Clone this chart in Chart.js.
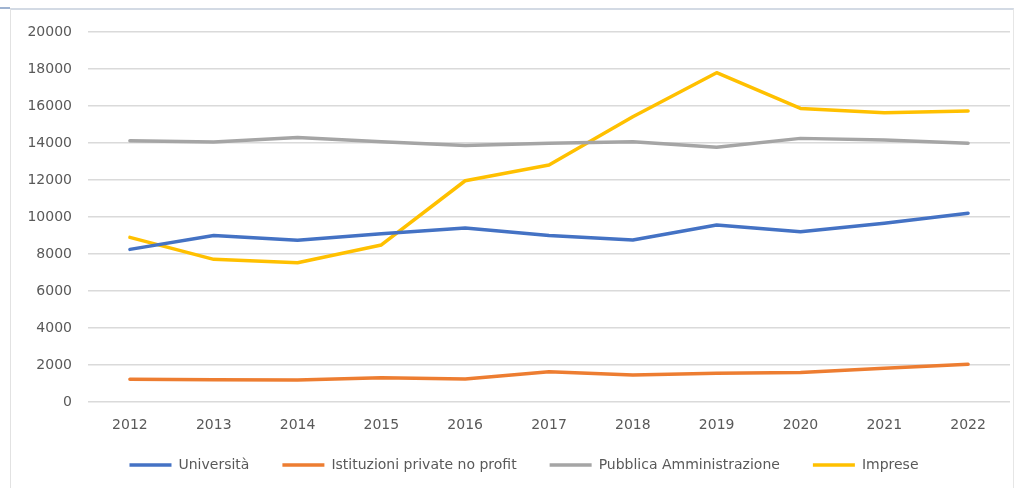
<!DOCTYPE html>
<html lang="it">
<head>
<meta charset="utf-8">
<title>Ricercatori per settore 2012-2022</title>
<script src="https://cdn.jsdelivr.net/npm/chart.js@4.4.1/dist/chart.umd.min.js"></script>
<style>
  html, body { margin: 0; padding: 0; background: #ffffff; }
  #wrap { position: relative; width: 1018px; height: 488px; overflow: hidden; }
  #frame {
    position: absolute; left: 10px; top: 8px; width: 1004px; height: 484px;
    border-top: 2px solid #d3dae4; border-left: 1px solid #e2e2e2; border-right: 1px solid #e6e6e6;
    box-sizing: border-box; pointer-events: none;
  }
  #corner { position: absolute; left: 0; top: 7px; width: 10px; height: 2px; background: #9fb3d1; }
  canvas { position: absolute; left: 0; top: 0; }
</style>
</head>
<body>
<div id="wrap">
  <canvas id="chart" width="1018" height="488"></canvas>
  <div id="frame"></div>
  <div id="corner"></div>
</div>
<script>
// Anni e serie (numero di addetti per settore)
const anni = ['2012', '2013', '2014', '2015', '2016', '2017', '2018', '2019', '2020', '2021', '2022'];
const universita = [8250, 9000, 8740, 9100, 9410, 9000, 8760, 9570, 9200, 9660, 10200];
const istituzioniPrivate = [1230, 1200, 1190, 1310, 1240, 1640, 1460, 1550, 1600, 1820, 2040];
const pubblicaAmministrazione = [14120, 14050, 14300, 14070, 13860, 13990, 14070, 13770, 14250, 14160, 13990];
const imprese = [8900, 7710, 7530, 8490, 11960, 12810, 15420, 17800, 15870, 15640, 15730];
const yTicks = [0, 2000, 4000, 6000, 8000, 10000, 12000, 14000, 16000, 18000, 20000];

Chart.defaults.font.family = "'DejaVu Sans', sans-serif";
Chart.defaults.font.size = 14;
Chart.defaults.color = '#595959';

function serie(label, data, color) {
  return {
    label, data,
    borderColor: color, backgroundColor: color,
    borderWidth: 3.5, tension: 0,
    borderJoinStyle: 'round', borderCapStyle: 'round',
    pointRadius: 0, pointHoverRadius: 0, fill: false
  };
}

// Sposta la legenda (centrata sotto l'area del grafico) dopo il calcolo del layout
const legendOffset = {
  id: 'legendOffset',
  afterLayout(chart, args, opts) {
    const l = chart.legend;
    if (!l) return;
    l.left += opts.dx; l.right += opts.dx;
    l.top += opts.dy; l.bottom += opts.dy;
  }
};

new Chart(document.getElementById('chart'), {
  type: 'line',
  data: {
    labels: anni,
    datasets: [
      serie('Università', universita, '#4472c4'),
      serie('Istituzioni private no profit', istituzioniPrivate, '#ed7d31'),
      serie('Pubblica Amministrazione', pubblicaAmministrazione, '#a5a5a5'),
      serie('Imprese', imprese, '#ffc000')
    ]
  },
  plugins: [legendOffset],
  options: {
    responsive: false,
    animation: false,
    layout: { padding: { left: 0, right: 8, top: 32, bottom: -2 } },
    plugins: {
      tooltip: { enabled: false },
      legendOffset: { dx: 19, dy: -8 },
      legend: {
        position: 'bottom',
        labels: {
          usePointStyle: true,
          pointStyle: 'line',
          pointStyleWidth: 42,
          padding: 33,
          font: { size: 14 },
          color: '#595959'
        }
      }
    },
    scales: {
      x: {
        offset: true,
        grid: { display: false, drawTicks: false },
        border: { display: false },
        ticks: { padding: 15, font: { size: 14 } },
        afterFit: s => { s.height = 31; }
      },
      y: {
        min: 0, max: 20000,
        afterBuildTicks: s => { s.ticks = yTicks.map(v => ({ value: v })); },
        grid: { color: '#dadada', lineWidth: 1.5, drawTicks: false },
        border: { display: false },
        ticks: { padding: 16, font: { size: 14 }, callback: v => String(v) },
        afterFit: s => { s.width = 88; }
      }
    }
  }
});
</script>
</body>
</html>
